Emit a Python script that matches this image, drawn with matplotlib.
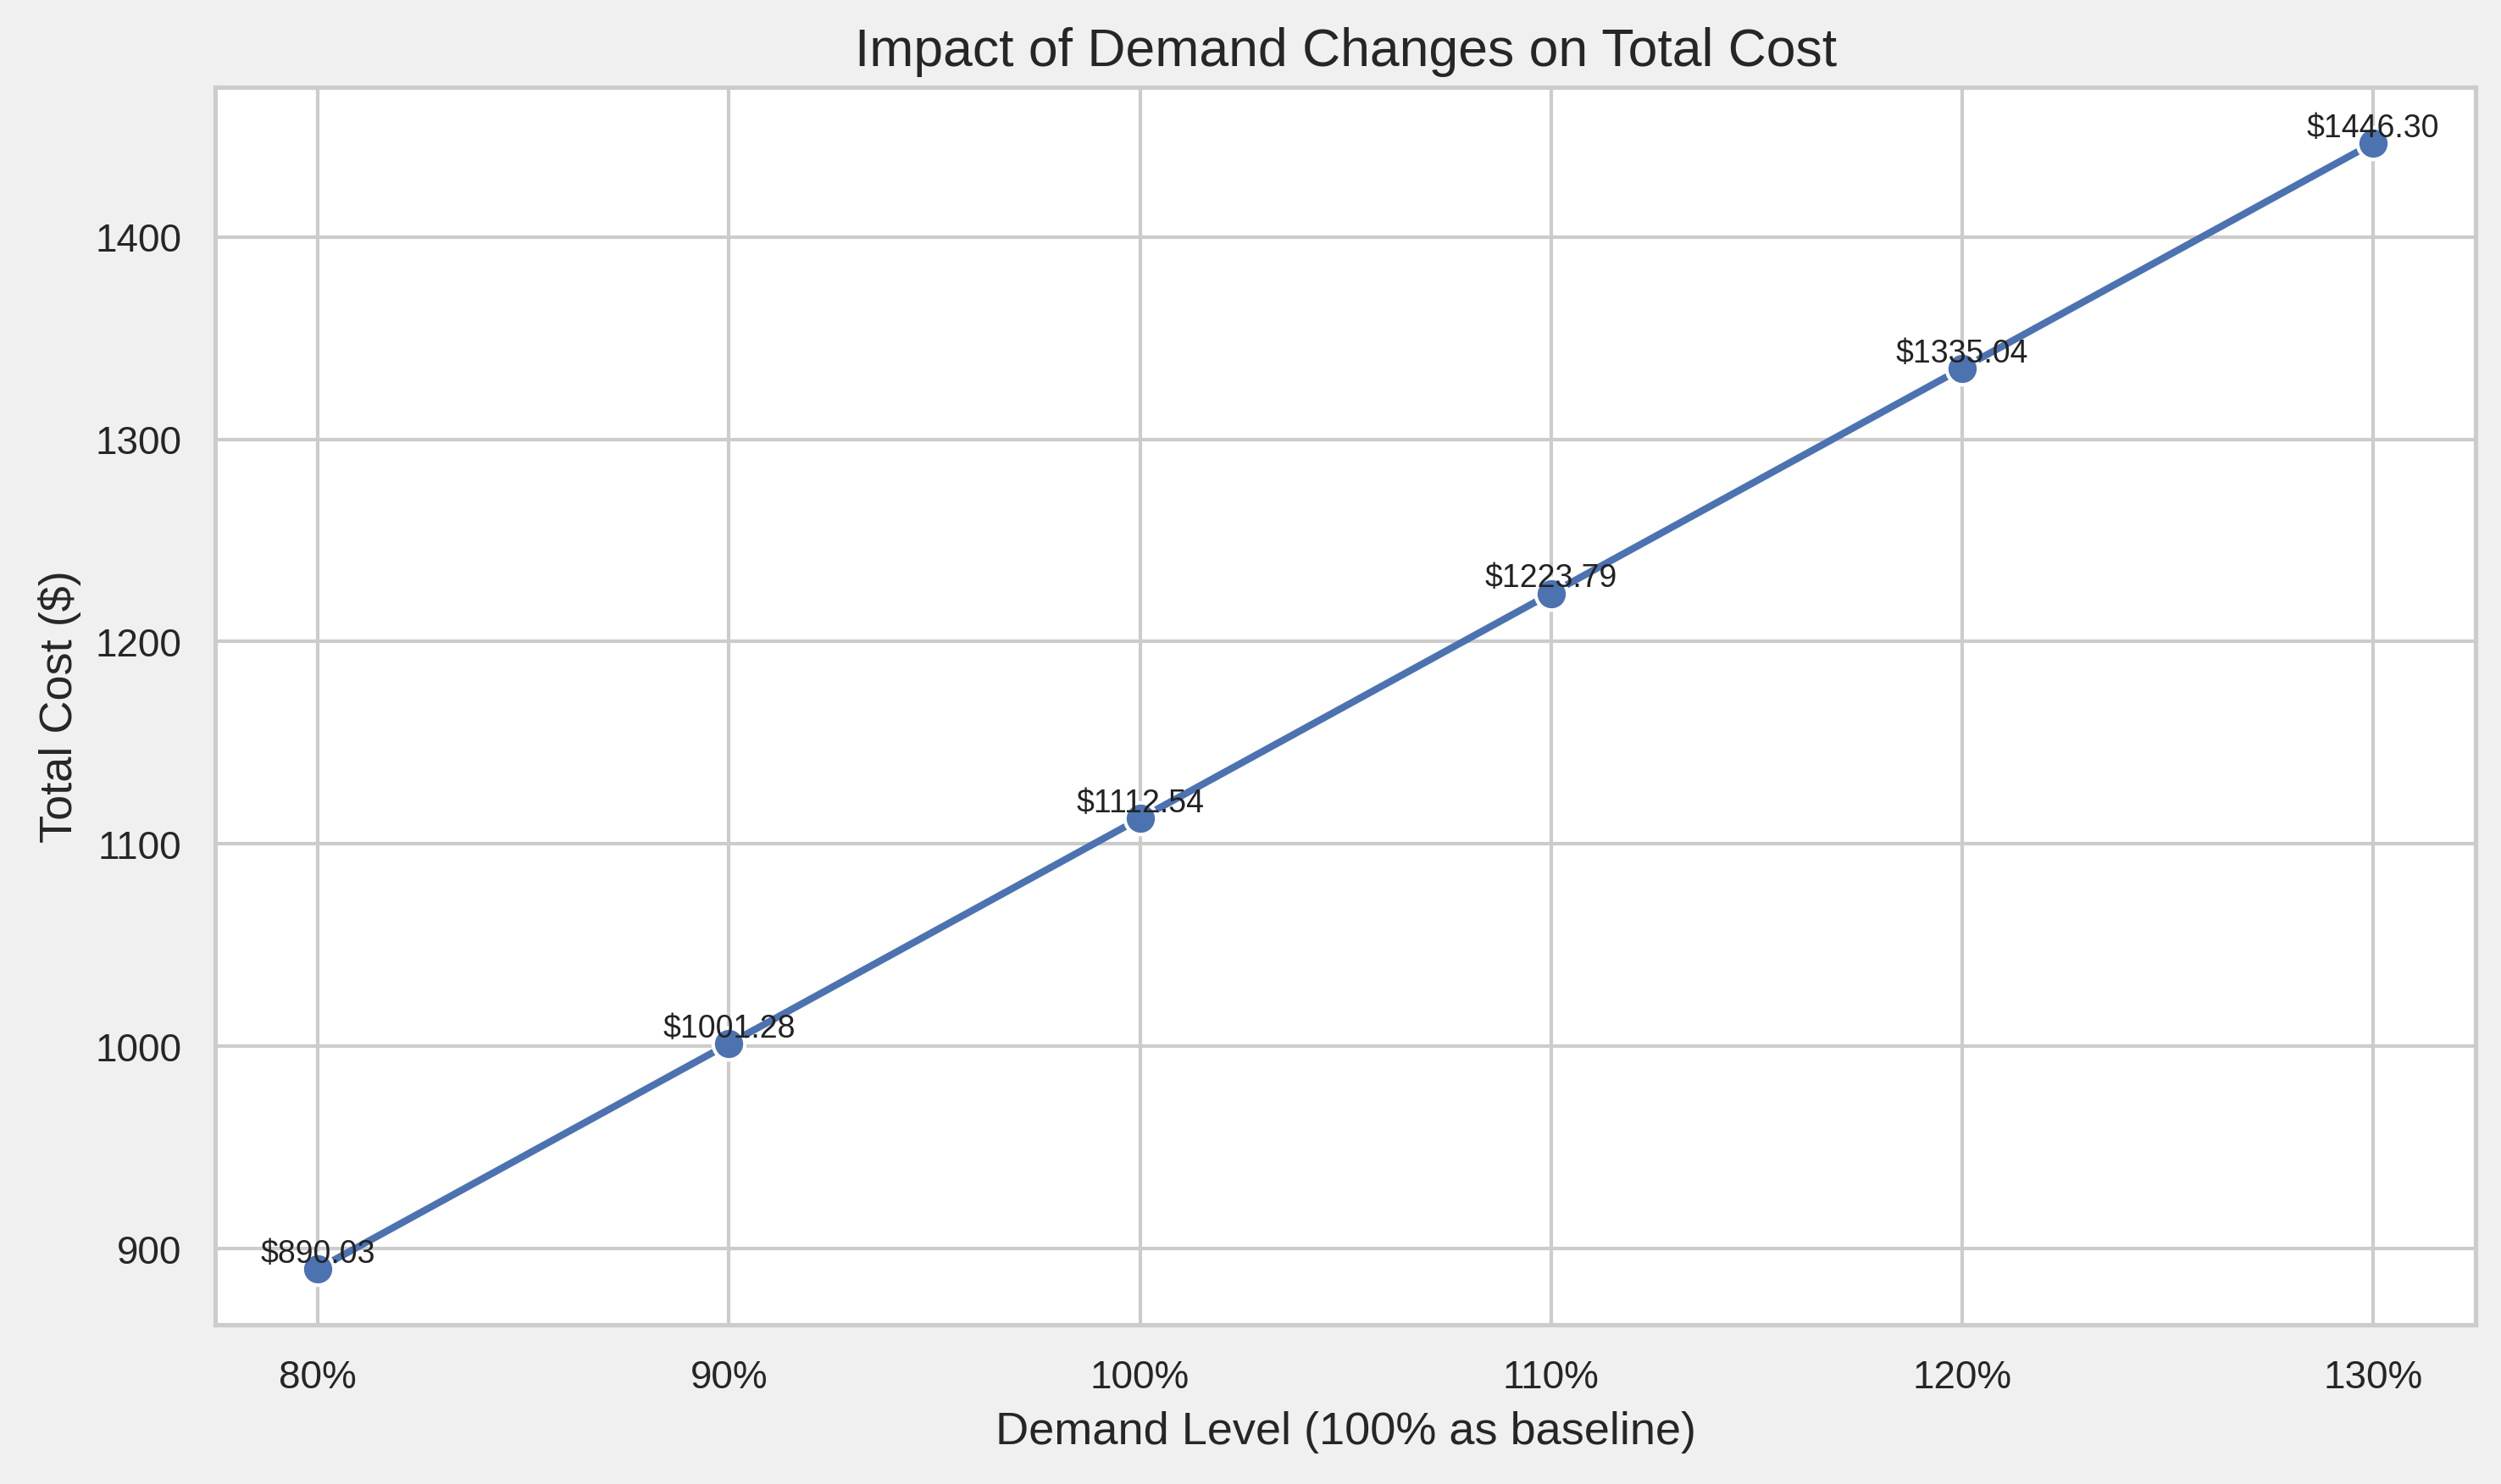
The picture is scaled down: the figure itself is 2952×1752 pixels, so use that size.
import matplotlib
matplotlib.use("Agg")
import matplotlib.pyplot as plt
import seaborn as sns

sns.set_theme(style="whitegrid")
plt.rcParams['font.family'] = ['Arial', 'Liberation Sans', 'DejaVu Sans']

levels = [80, 90, 100, 110, 120, 130]
costs = [890.03, 1001.28, 1112.54, 1223.79, 1335.04, 1446.30]

fig = plt.figure(figsize=(9.84, 5.843), dpi=300, facecolor='#f0f0f0')
ax = fig.add_axes([0.086, 0.107, 0.904, 0.834])
ax.plot(levels, costs, color='#4c72b0', linewidth=2, marker='o', markersize=9,
        markeredgecolor='white', markeredgewidth=1)
for x, y in zip(levels, costs):
    ax.text(x, y, f"${y:.2f}", ha='center', va='bottom', fontsize=9, color='#222222')
ax.set_xticks(levels)
ax.set_xticklabels([f"{v}%" for v in levels])
ax.set_xlabel("Demand Level (100% as baseline)", fontsize=13)
ax.set_ylabel("Total Cost ($)", fontsize=13)
ax.set_title("Impact of Demand Changes on Total Cost", fontsize=15)
ax.tick_params(labelsize=11)
fig.savefig("out.png", dpi=300, facecolor=fig.get_facecolor())
